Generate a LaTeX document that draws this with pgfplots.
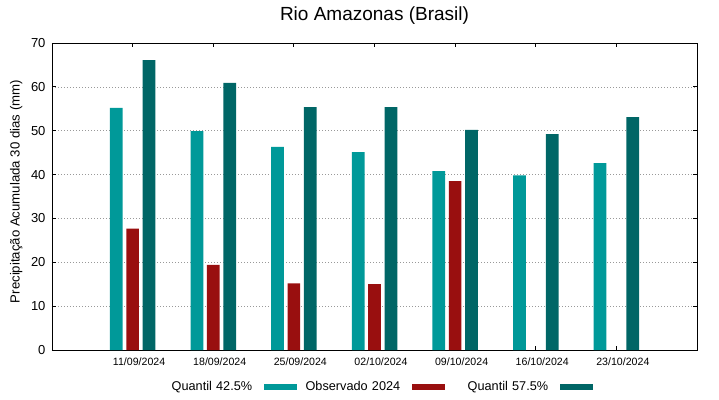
\documentclass[border=0pt]{standalone}
\usepackage{fontspec}
\setmainfont{Liberation Sans}
\usepackage{pgfplots}
\pgfplotsset{compat=1.18}
\definecolor{qlo}{HTML}{009999}
\definecolor{obs}{HTML}{990F0F}
\definecolor{qhi}{HTML}{006666}
\begin{document}
\begin{tikzpicture}[x=1pt,y=1pt]
\path[use as bounding box] (-52,-49) rectangle (667,350);
\begin{axis}[
  at={(0,0)}, anchor=south west,
  scale only axis, width=645pt, height=307pt,
  xmin=-1, xmax=7, ymin=0, ymax=70,
  xtick={0,1,2,3,4,5,6},
  xticklabels={11/09/2024,18/09/2024,25/09/2024,02/10/2024,09/10/2024,16/10/2024,23/10/2024},
  ytick={0,10,20,30,40,50,60,70},
  tick align=inside,
  major tick length=4pt,
  /pgf/number format/assume math mode=true,
  xticklabel style={font=\fontsize{10.6}{12}\selectfont, xshift=6.5pt, yshift=-4pt},
  yticklabel style={font=\fontsize{13}{15}\selectfont, xshift=-3pt},
  ymajorgrids,
  grid style={dash pattern=on 1pt off 2pt, gray!80, line width=0.6pt},
  axis line style={line width=0.8pt},
  tick style={line width=0.8pt, black},
  title={Rio Amazonas (Brasil)},
  title style={font=\fontsize{19}{22}\selectfont, at={(0.5,1)}, anchor=south, yshift=9pt, xshift=0pt},
  ylabel={Precipitação Acumulada 30 dias (mm)},
  ylabel style={font=\fontsize{13.2}{15}\selectfont, at={(axis description cs:-0.0555,0.516)}, anchor=center, rotate=0},
  legend plot pos=right,
  legend columns=3,
  legend style={draw=none, fill=none, at={(axis description cs:0.1628,-0.1205)}, anchor=west,
    font=\fontsize{12.7}{14}\selectfont, inner sep=0pt,
    nodes={inner sep=0pt, text width=95pt, align=right},
    /tikz/every even column/.append style={column sep=8pt},
    /tikz/every odd column/.append style={column sep=12pt}},
  legend image code/.code={\fill (0pt,-2.6pt) rectangle (33pt,2.6pt);},
]
\addplot[ybar, bar width=12.7pt, bar shift=-16.3pt, fill=qlo, draw=none]
  coordinates {(0,55.2) (1,49.9) (2,46.3) (3,45.1) (4,40.8) (5,39.8) (6,42.6)};
\addlegendentry{Quantil 42.5\%}
\addplot[ybar, bar width=12.7pt, bar shift=0pt, fill=obs, draw=none]
  coordinates {(0,27.7) (1,19.4) (2,15.2) (3,15.0) (4,38.5)};
\addlegendentry{Observado 2024}
\addplot[ybar, bar width=12.7pt, bar shift=16.4pt, fill=qhi, draw=none]
  coordinates {(0,66.1) (1,60.9) (2,55.4) (3,55.4) (4,50.2) (5,49.2) (6,53.1)};
\addlegendentry{Quantil 57.5\%}
\end{axis}
\end{tikzpicture}
\end{document}
